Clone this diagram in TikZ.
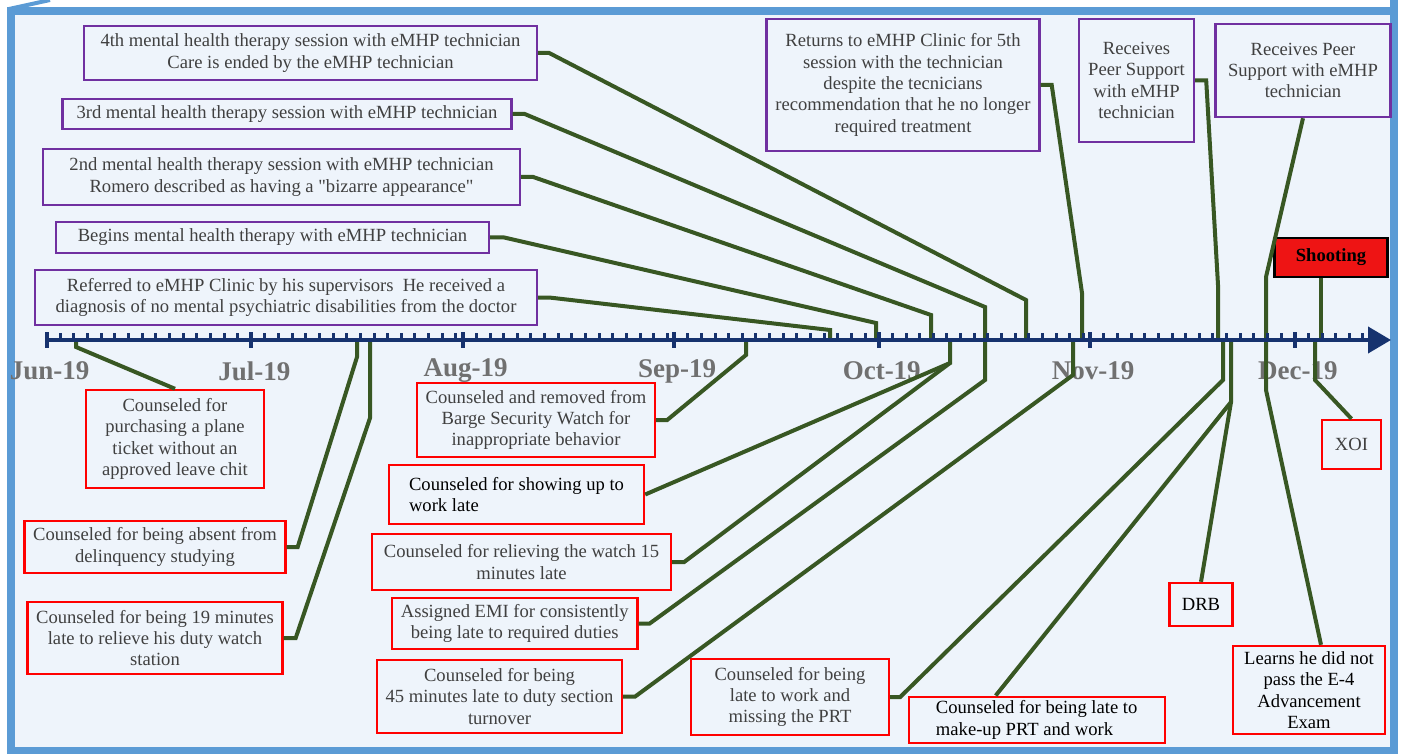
\documentclass[tikz,border=0pt]{standalone}
\usepackage{fontspec}
\setmainfont{Liberation Serif}
\usepackage{tikz}
\usetikzlibrary{arrows.meta}

\definecolor{frameblue}{RGB}{91,155,213}
\definecolor{bgblue}{RGB}{238,244,251}
\definecolor{navy}{RGB}{22,50,110}
\definecolor{linkgreen}{RGB}{56,87,35}
\definecolor{evtpurple}{RGB}{112,48,160}
\definecolor{txtgray}{RGB}{64,64,64}
\definecolor{mongray}{RGB}{112,112,112}
\definecolor{shootred}{RGB}{238,20,20}

\tikzset{
  evt/.style={draw=evtpurple, line width=1.2pt, fill=bgblue, text=txtgray, align=center,
    inner sep=2pt, font=\fontsize{9.3}{10.7}\selectfont},
  note/.style={draw=red, line width=1.2pt, fill=bgblue, text=txtgray, align=center,
    inner sep=2pt, font=\fontsize{9.3}{10.7}\selectfont},
  link/.style={draw=linkgreen, line width=2pt},
  mon/.style={text=mongray, font=\fontsize{13.5}{15}\selectfont\bfseries},
}

\begin{document}
\begin{tikzpicture}[x=0.5pt, y=-0.5pt]
        \useasboundingbox (0,0) rectangle (1402,754);

        % Frame
        \fill[bgblue] (11,11) rectangle (1393.5,750.5);
        \draw[frameblue, line width=2pt] (9,9) -- (50,0);
        \draw[frameblue, line width=4pt] (1393.5,0) -- (1393.5,11);
        \draw[frameblue, line width=4pt] (11,11) rectangle (1393.5,750.5);

        % Month labels
        \foreach \s/\lab in {0/Jun-19,30/Jul-19,61/Aug-19,92/Sep-19,122/Oct-19,153/Nov-19,183/Dec-19}
            \node[mon] (m\s) at ({49.7+6.82*\s},371) {\lab};

        % Points on the time line
        \coordinate (ax0) at (46.7,340);
        \coordinate (ax1) at (1391,340);
        \coordinate (a0) at (76,340);
        \coordinate (a1) at (357,340);
        \coordinate (a2) at (370,340);
        \coordinate (a3) at (746,340);
        \coordinate (a4) at (830,340);
        \coordinate (a5) at (876,340);
        \coordinate (a6) at (931,340);
        \coordinate (a7) at (950,340);
        \coordinate (a8) at (985,340);
        \coordinate (a9) at (1026,340);
        \coordinate (a10) at (1073,340);
        \coordinate (a11) at (1082,340);
        \coordinate (a12) at (1218,340);
        \coordinate (a13) at (1223,340);
        \coordinate (a14) at (1231,340);
        \coordinate (a15) at (1266,340);
        \coordinate (a16) at (1315,340);
        \coordinate (a17) at (1321,340);

        % Events above the line
        \node[evt, minimum width=226.5pt, minimum height=27pt] (P4) at (310.5,53)
            {4th mental health therapy session with eMHP technician\\Care is ended by the eMHP technician};
        \node[evt, minimum width=224.5pt, minimum height=15pt] (P3) at (287,114)
            {3rd mental health therapy session with eMHP technician};
        \node[evt, minimum width=238.5pt, minimum height=28pt] (P2) at (281.5,177)
            {2nd mental health therapy session with eMHP technician\\Romero described as having a \textquotedbl bizarre appearance\textquotedbl};
        \node[evt, minimum width=216.5pt, minimum height=15.5pt] (P1) at (272.5,237.5)
            {Begins mental health therapy with eMHP technician};
        \node[evt, minimum width=251pt, minimum height=27.5pt] (P0) at (286,297.5)
            {Referred to eMHP Clinic by his supervisors\ \ He received a\\diagnosis of no mental psychiatric disabilities from the doctor};
        \node[evt, minimum width=136.5pt, minimum height=66pt] (P5) at (903,85)
            {Returns to eMHP Clinic for 5th\\session with the technician\\despite the tecnicians\\recommendation that he no longer\\required treatment};
        \node[evt, minimum width=57.5pt, minimum height=61.5pt] (P6) at (1136.5,80.5)
            {Receives\\Peer Support\\with eMHP\\technician};
        \node[evt, minimum width=87.5pt, minimum height=46.5pt] (P7) at (1303,70.5)
            {Receives Peer\\Support with eMHP\\technician};
        \node[draw=black, line width=1.2pt, fill=shootred, minimum width=56.5pt, minimum height=19.5pt,
            font=\fontsize{9.3}{10.7}\selectfont\bfseries] (Shoot) at (1331,257.5) {Shooting};

        % Events below the line
        \node[note, minimum width=89pt, minimum height=49pt] (R1) at (175,439)
            {Counseled for\\purchasing a plane\\ticket without an\\approved leave chit};
        \node[note, minimum width=130.5pt, minimum height=26pt] (R2) at (155,547)
            {Counseled for being absent from\\delinquency studying};
        \node[note, minimum width=127.5pt, minimum height=36pt] (R3) at (155,638)
            {Counseled for being 19 minutes\\late to relieve his duty watch\\station};
        \node[note, minimum width=119pt, minimum height=37pt] (R4) at (536,420)
            {Counseled and removed from\\Barge Security Watch for\\inappropriate behavior};
        \node[note, text=black, align=left, minimum width=127.5pt, minimum height=29.5pt] (R5) at (516.5,494.5)
            {Counseled for showing up to\\work late};
        \node[note, minimum width=149.5pt, minimum height=28pt] (R6) at (521.5,562)
            {Counseled for relieving the watch 15\\minutes late};
        \node[note, minimum width=122.75pt, minimum height=25.5pt] (R7) at (514.75,623.5)
            {Assigned EMI for consistently\\being late to required duties};
        \node[note, minimum width=122.5pt, minimum height=36.5pt] (R8) at (499.5,696.5)
            {Counseled for being\\45 minutes late to duty section\\turnover};
        \node[note, minimum width=99pt, minimum height=38pt] (R9) at (790,697)
            {Counseled for being\\late to work and\\missing the PRT};
        \node[note, text=black, align=left, minimum width=128pt, minimum height=23pt] (R10) at (1036.7,720)
            {Counseled for being late to\\make-up PRT and work};
        \node[note, text=black, minimum width=31.5pt, minimum height=21.5pt] (DRB) at (1201,604.5) {DRB};
        \node[note, text=black, minimum width=76pt, minimum height=44pt] (L) at (1309,690)
            {Learns he did not\\pass the E-4\\Advancement\\Exam};
        \node[note, minimum width=29.5pt, minimum height=24.5pt] (XOI) at (1351.5,444.5) {XOI};

        % Connectors from above
        \draw[link] (P0.east) -- ++(11,0) -- (830,330) -- (a4);
        \draw[link] (P1.east) -- ++(14,0) -- (876,323) -- (a5);
        \draw[link] (P2.east) -- ++(12,0) -- (931,315) -- (a6);
        \draw[link] (P3.east) -- ++(12,0) -- (985,307) -- (a8);
        \draw[link] (P4.east) -- ++(11,0) -- (1026,300) -- (a9);
        \draw[link] (P5.east) -- ++(11,0) -- (1082,293) -- (a11);
        \draw[link] (P6.east) -- ++(11,0) -- (1218,285) -- (a12);
        \draw[link] (P7.south) -- (1266,277) -- (a15);
        \draw[link] (Shoot.south -| a17) -- (a17);

        % Connectors from below
        \draw[link] (R1.north) -- (76,347) -- (a0);
        \draw[link] (R2.east) -- ++(11,0) -- (357,357) -- (a1);
        \draw[link] (R3.east) -- ++(12,0) -- (370,418) -- (a2);
        \draw[link] (R4.east) -- ++(11,0) -- (746,355) -- (a3);
        \draw[link] (R5.east) -- (950,363) -- (a7);
        \draw[link] (R6.east) -- ++(12,0) -- (950,363);
        \draw[link] (R7.east) -- ++(11,0) -- (985,380) -- (a8);
        \draw[link] (R8.east) -- ++(12,0) -- (1073,375) -- (a10);
        \draw[link] (R9.east) -- ++(10,0) -- (1223,380) -- (a13);
        \draw[link] ([xshift=-20.5pt]R10.north) -- (1231,402) -- (a14);
        \draw[link] (DRB.north) -- (1231,402);
        \draw[link] ([xshift=6pt]L.north) -- (1266,390) -- (a15);
        \draw[link] (XOI.north) -- (1315,380) -- (a16);

        % Time line with ticks
        \foreach \s/\n in {0/30,30/31,61/31,92/30,122/31,153/30,183/12}{
            \draw[navy, line width=2pt] ({46.7+6.82*\s},332) -- ({46.7+6.82*\s},348);
            \pgfmathtruncatemacro{\m}{(\n-1)/2}
            \foreach \k in {1,...,\m}
                \draw[navy, line width=1.5pt] ({46.7+6.82*(\s+2*\k)},333) -- ({46.7+6.82*(\s+2*\k)},340);
        }
        \draw[navy, line width=2pt, -{Triangle[length=11.5pt,width=13pt]}] (ax0) -- (ax1);
\end{tikzpicture}
\end{document}
